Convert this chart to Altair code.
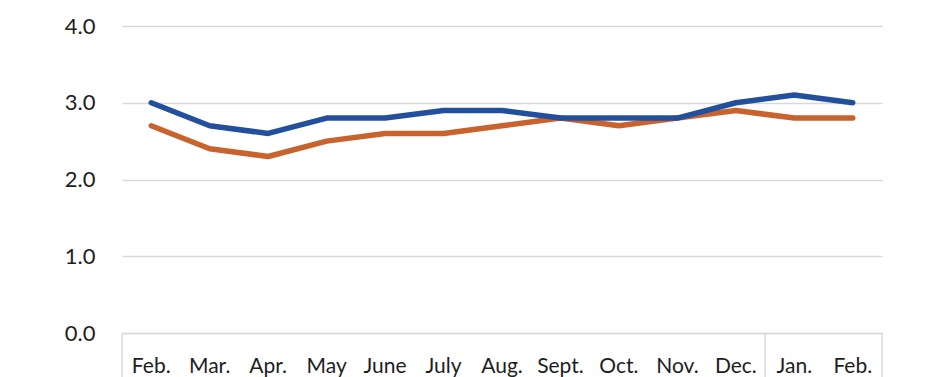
import altair as alt
import pandas as pd

months = ["Feb.", "Mar.", "Apr.", "May", "June", "July", "Aug.", "Sept.", "Oct.", "Nov.", "Dec.", "Jan.", "Feb."]
series_blue = [3.0, 2.7, 2.6, 2.8, 2.8, 2.9, 2.9, 2.8, 2.8, 2.8, 3.0, 3.1, 3.0]
series_orange = [2.7, 2.4, 2.3, 2.5, 2.6, 2.6, 2.7, 2.8, 2.7, 2.8, 2.9, 2.8, 2.8]
y_ticks = [0, 1, 2, 3, 4]
# year-group boundaries on the category axis (left edge of these categories, plus right end)
group_starts = [0, 11]

keys = [f"{i:02d}|{m}" for i, m in enumerate(months)]

rows = []
for k, b, o in zip(keys, series_blue, series_orange):
    rows.append({"key": k, "series": "blue", "value": b})
    rows.append({"key": k, "series": "orange", "value": o})
df = pd.DataFrame(rows)

sep_left = pd.DataFrame({"key": [keys[i] for i in group_starts]})
sep_right = pd.DataFrame({"key": [keys[-1]]})

FONT = "Lato"
GRID = "#D9D9D9"

x_axis = alt.Axis(
    title=None,
    labelExpr="split(datum.label, '|')[1]",
    ticks=False,
    bandPosition=0.5,
    labelAngle=0,
    labelFont=FONT,
    labelFontSize=21,
    labelColor="#1e1e1e",
    labelPadding=22,
    domainColor=GRID,
    domainWidth=1.5,
    grid=False,
)
x_enc = alt.X("key:N", sort=keys, scale=alt.Scale(paddingInner=0, paddingOuter=0), axis=x_axis)
y_enc = alt.Y(
    "value:Q",
    scale=alt.Scale(domain=[0, 4], nice=False),
    axis=alt.Axis(
        title=None,
        values=y_ticks,
        format=".1f",
        ticks=False,
        domain=False,
        labelFont=FONT,
        labelFontSize=22,
        labelColor="#1e1e1e",
        labelPadding=27,
        gridColor=GRID,
        gridWidth=1.5,
    ),
)

base = alt.Chart(df)

orange_line = base.transform_filter(alt.datum.series == "orange").mark_line(
    color="#C8632D", strokeWidth=5.5, strokeCap="round", strokeJoin="round"
).encode(x=x_enc, y=y_enc)

blue_line = base.transform_filter(alt.datum.series == "blue").mark_line(
    color="#22509C", strokeWidth=5.5, strokeCap="round", strokeJoin="round"
).encode(x=x_enc, y=y_enc)

rule_left = alt.Chart(sep_left).mark_rule(color=GRID, strokeWidth=1.5).encode(
    x=alt.X("key:N", sort=keys, bandPosition=0, axis=x_axis),
    y=alt.datum(0),
    y2=alt.value(360),
)
rule_right = alt.Chart(sep_right).mark_rule(color=GRID, strokeWidth=1.5).encode(
    x=alt.X("key:N", sort=keys, bandPosition=1, axis=x_axis),
    y=alt.datum(0),
    y2=alt.value(360),
)

chart = alt.layer(orange_line, blue_line, rule_left, rule_right).properties(
    width=760,
    height=307,
    autosize=alt.AutoSizeParams(type="none"),
    padding={"left": 114, "top": 18, "right": 52, "bottom": 44},
).configure(background="white").configure_view(stroke=None)

chart.save("out.html", embed_options={"renderer": "svg", "actions": False})
